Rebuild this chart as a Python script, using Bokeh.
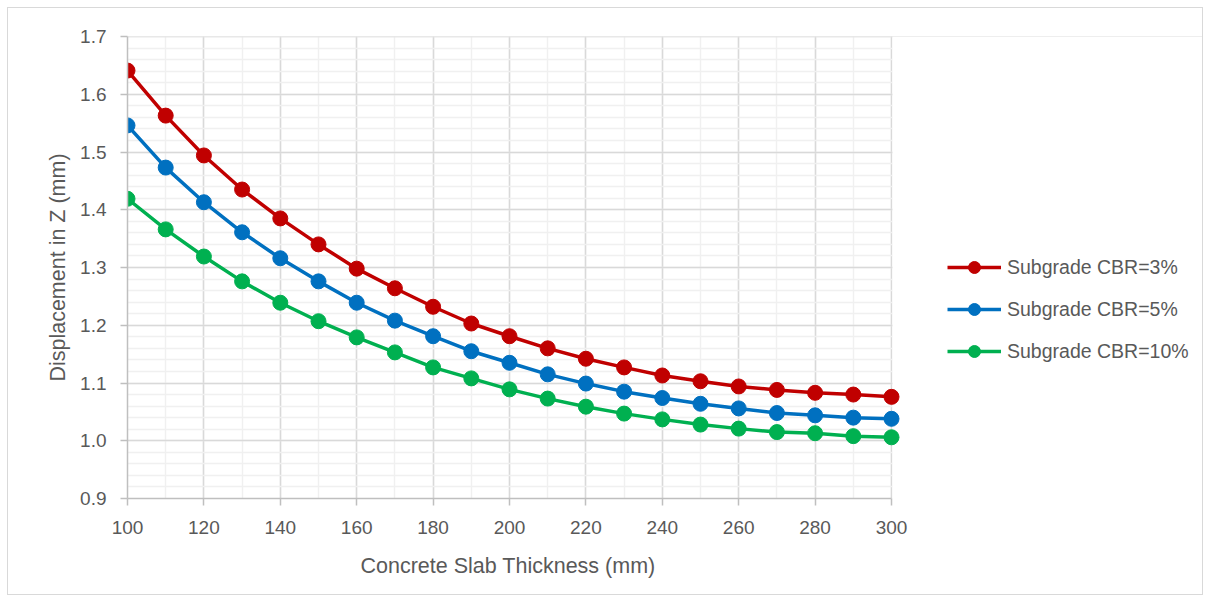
from bokeh.plotting import figure
from bokeh.models import (ColumnDataSource, Legend, LegendItem, Range1d, BoxAnnotation,
                          SingleIntervalTicker, PrintfTickFormatter, Title)
from bokeh.embed import file_html
from bokeh.resources import INLINE

thickness = [100, 110, 120, 130, 140, 150, 160, 170, 180, 190, 200,
             210, 220, 230, 240, 250, 260, 270, 280, 290, 300]
cbr3 = [1.641, 1.563, 1.494, 1.435, 1.385, 1.340, 1.298, 1.264, 1.232, 1.203, 1.181,
        1.160, 1.142, 1.127, 1.113, 1.103, 1.094, 1.088, 1.083, 1.080, 1.076]
cbr5 = [1.546, 1.473, 1.413, 1.361, 1.316, 1.276, 1.239, 1.208, 1.181, 1.155, 1.135,
        1.115, 1.099, 1.085, 1.074, 1.064, 1.056, 1.048, 1.044, 1.040, 1.038]
cbr10 = [1.419, 1.366, 1.319, 1.276, 1.239, 1.207, 1.179, 1.153, 1.127, 1.108, 1.089,
         1.073, 1.059, 1.047, 1.037, 1.028, 1.021, 1.015, 1.013, 1.008, 1.006]
series_names = ["Subgrade CBR=3%", "Subgrade CBR=5%", "Subgrade CBR=10%"]
colors = ["#C00000", "#0070C0", "#00B050"]
x_title = "Concrete Slab Thickness (mm)"
y_title = "Displacement in Z (mm)"

FONT = "Liberation Sans"
TXT = "#595959"

X0, X1 = 100, 300
FRAME_W_DATA = 764          # pixel width of the data area (100..300)
LEFT, WIDTH = 119, 1196
x_end = X0 + (WIDTH - LEFT) * (X1 - X0) / FRAME_W_DATA

p = figure(width=WIDTH, height=588, output_backend="svg", toolbar_location=None,
           x_range=Range1d(X0, x_end), y_range=Range1d(0.9, 1.7 + 1e-9),
           min_border_left=LEFT, min_border_top=28, min_border_bottom=98,
           min_border_right=0)
p.styles = {"border": "1px solid #d9d9d9", "margin-left": "7px", "margin-top": "7px"}
p.outline_line_color = None
p.background_fill_color = "white"

p.xaxis.ticker = SingleIntervalTicker(interval=20, num_minor_ticks=2)
p.yaxis.ticker = SingleIntervalTicker(interval=0.1, num_minor_ticks=5)
p.yaxis.formatter = PrintfTickFormatter(format="%.1f")
p.xaxis.bounds = (X0, X1)
p.xgrid.bounds = (X0, X1)

for ax in (p.xaxis, p.yaxis):
    ax.axis_line_color = "#bfbfbf"
    ax.axis_line_width = 1.5
    ax.major_tick_line_color = "#bfbfbf"
    ax.major_tick_line_width = 1.5
    ax.major_tick_in = 0
    ax.major_tick_out = 7
    ax.minor_tick_line_color = None
    ax.major_label_text_font = FONT
    ax.major_label_text_font_size = "19px"
    ax.major_label_text_color = TXT
    ax.axis_label_text_font = FONT
    ax.axis_label_text_font_size = "21.5px"
    ax.axis_label_text_font_style = "normal"
    ax.axis_label_text_color = TXT

p.yaxis.axis_label = y_title
p.xaxis.major_label_standoff = 15
p.yaxis.major_label_standoff = 14
p.yaxis.axis_label_standoff = 7

# x-axis title centred under the data area (100..300)
xt = Title(text=x_title, align="left", offset=233, standoff=31,
           text_font=FONT, text_font_size="21.5px", text_font_style="normal",
           text_color=TXT)
p.add_layout(xt, "below")

for g in (p.xgrid, p.ygrid):
    g.grid_line_color = "#d9d9d9"
    g.grid_line_width = 1.5
    g.minor_grid_line_color = "#f0f0f0"
    g.minor_grid_line_width = 1.5

# blank out the grid to the right of the data area (legend zone)
p.add_layout(BoxAnnotation(left=X1 + 0.25, fill_color="white", fill_alpha=1,
                           line_alpha=0, level="underlay"))

src = ColumnDataSource(dict(x=thickness, a=cbr3, b=cbr5, c=cbr10))
items = []
for col, name, color in zip(["a", "b", "c"], series_names, colors):
    l = p.line("x", col, source=src, line_color=color, line_width=3.5)
    s = p.scatter("x", col, source=src, size=15, fill_color=color, line_color=color)
    items.append(LegendItem(label=name, renderers=[l, s]))

legend = Legend(items=items, location=(820, 132), orientation="vertical",
                glyph_width=54, glyph_height=30, label_height=30, spacing=12,
                label_standoff=6, padding=0, margin=0,
                border_line_color=None, background_fill_alpha=0,
                label_text_font=FONT, label_text_font_size="19.5px",
                label_text_color=TXT)
p.add_layout(legend, "center")

open("out.html", "w").write(file_html(p, INLINE))
